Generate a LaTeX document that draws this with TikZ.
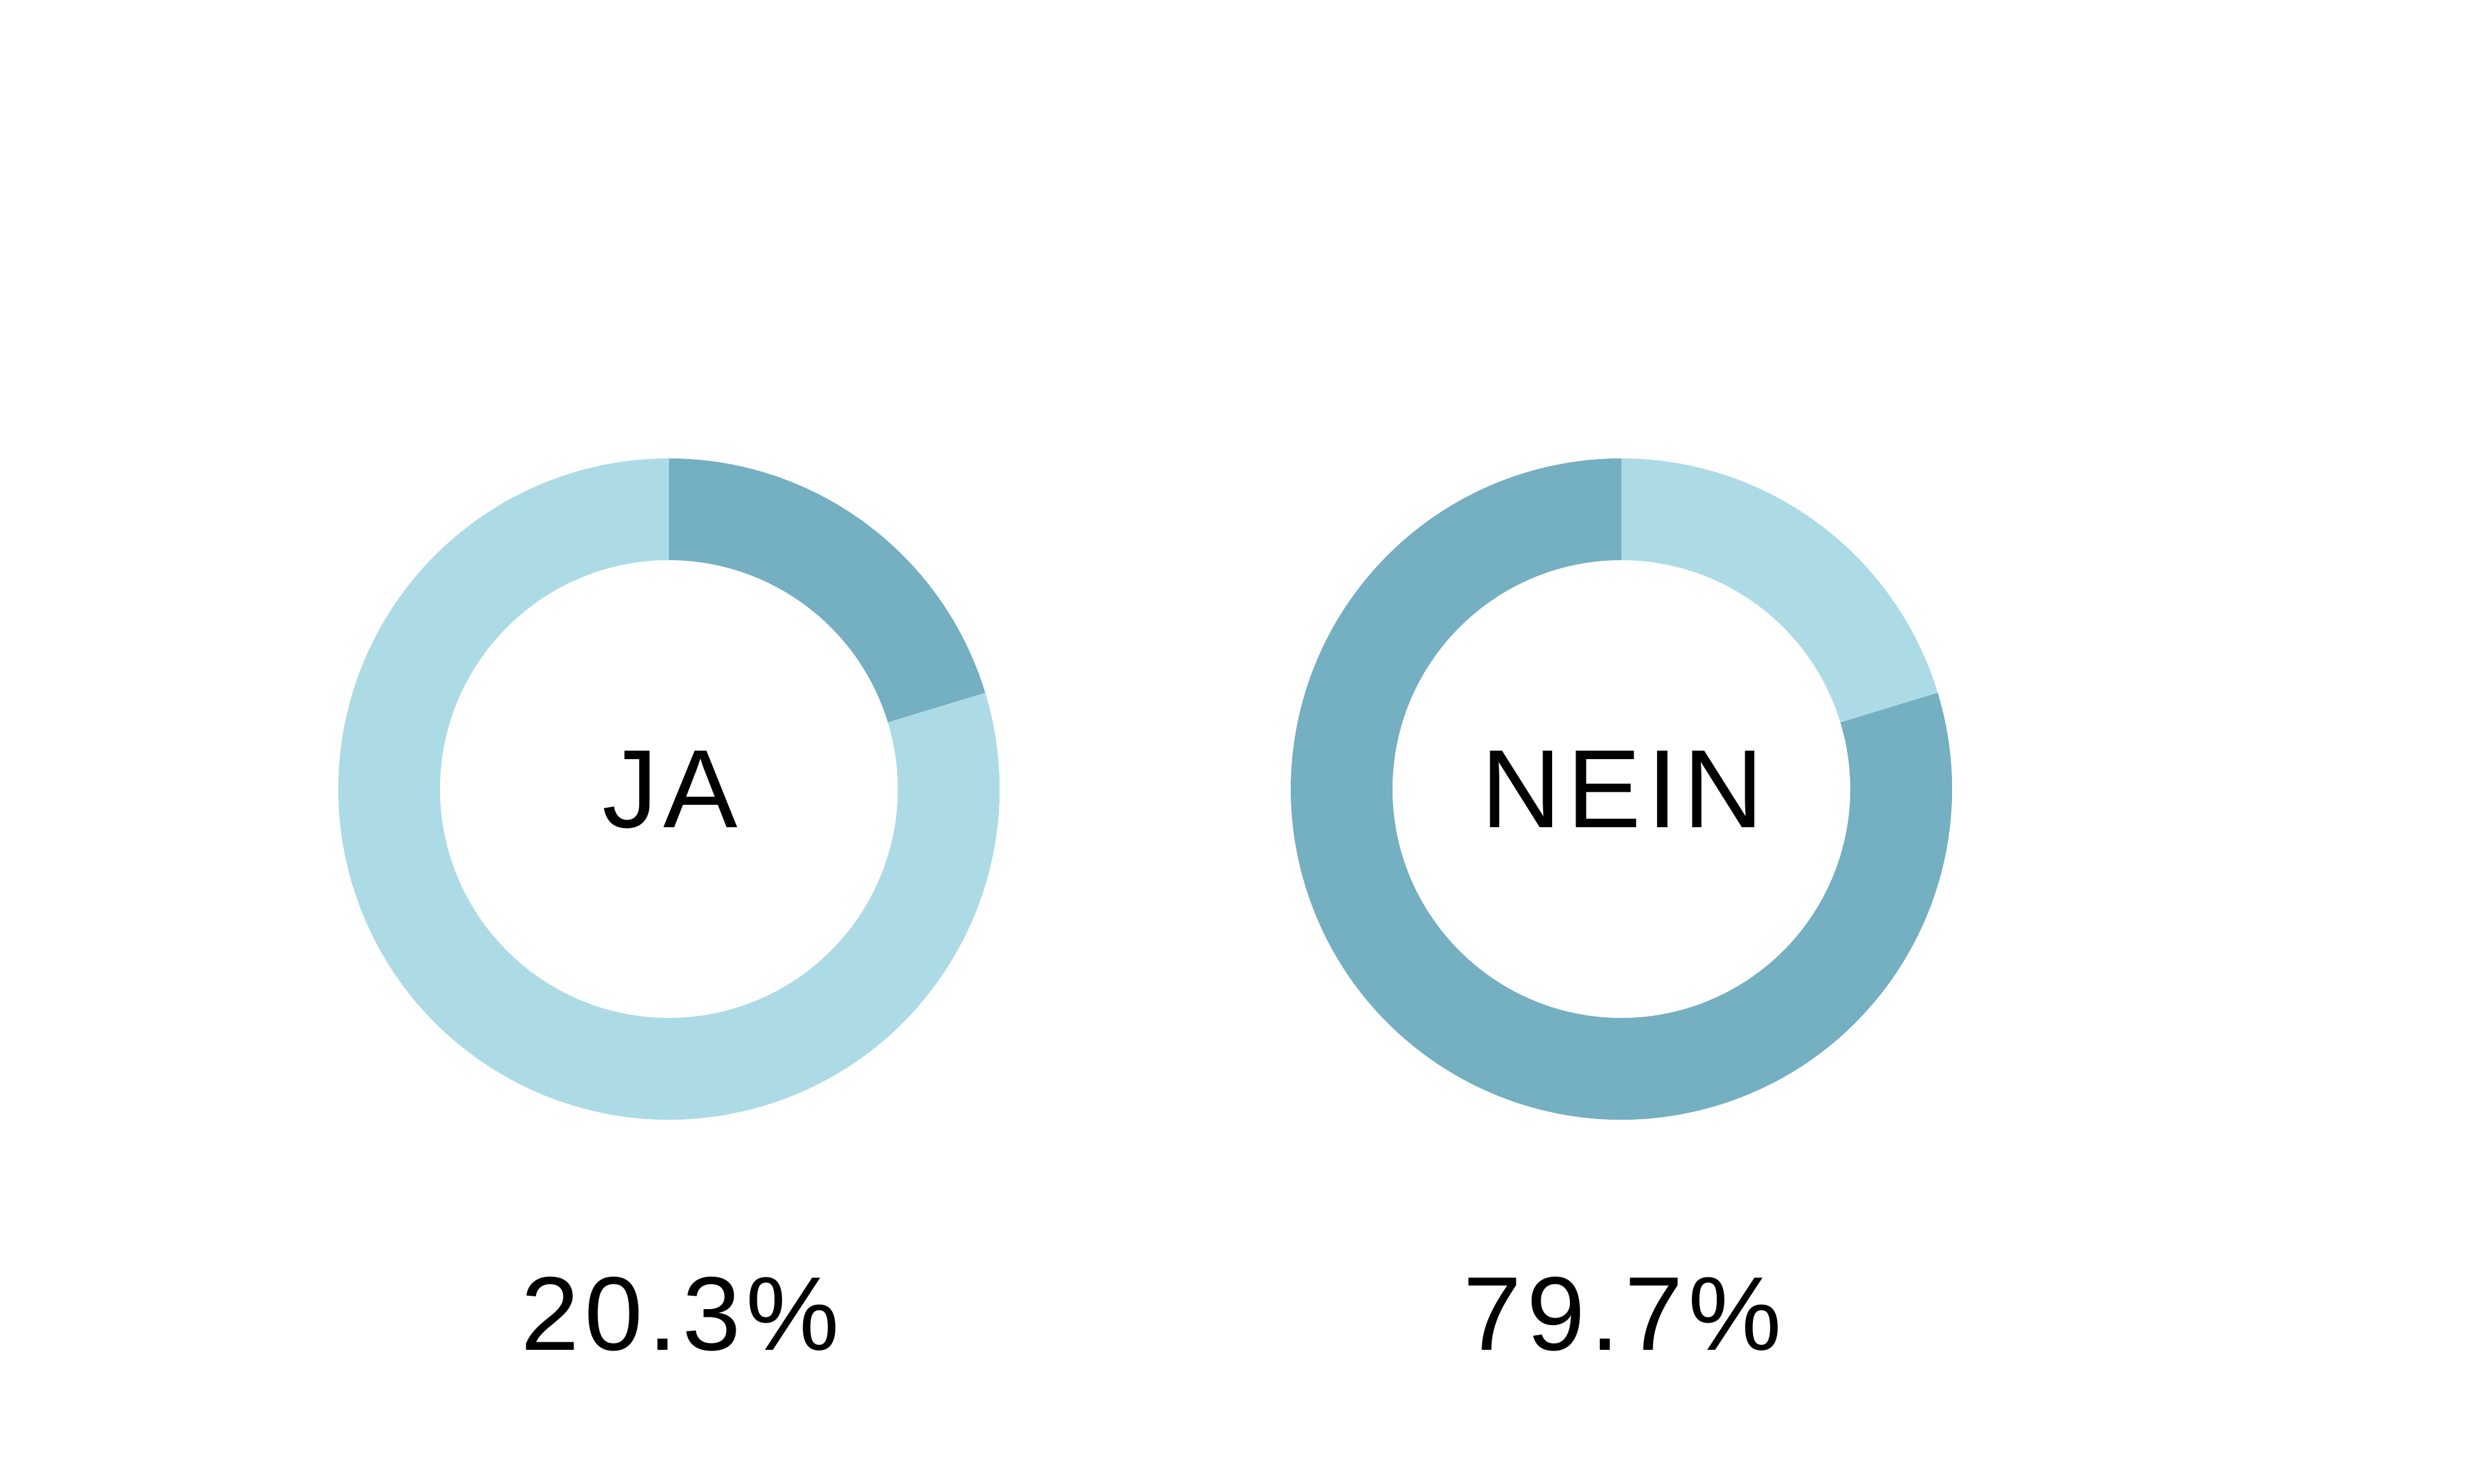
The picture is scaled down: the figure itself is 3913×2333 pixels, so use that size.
\documentclass[tikz,border=0pt]{standalone}
\usepackage{fontspec}
\usepackage{xcolor}
\setmainfont{Liberation Sans}
\newfontfamily\ringfont[LetterSpace=5]{Liberation Sans}
\newfontfamily\sharefont[LetterSpace=5]{Liberation Sans}
\definecolor{ringlight}{HTML}{ACDBE6}
\definecolor{ringdark}{HTML}{74AFC2}
\usetikzlibrary{positioning}

\begin{document}
\begin{tikzpicture}[x=0.2pt,y=0.2pt,
  seglight/.style={fill=ringlight},
  segdark/.style={fill=ringdark},
  ringlabel/.style={anchor=base,inner sep=0pt,font=\ringfont\fontsize{35}{40}\selectfont},
  share/.style={anchor=base,inner sep=0pt,font=\sharefont\fontsize{33}{38}\selectfont}]
\fill[white] (0,0) rectangle (3913,2333);
\useasboundingbox (0,0) rectangle (3913,2333);
\coordinate (ja) at (1052,1092);
\coordinate (nein) at (2550,1092);
% ring JA
\fill[segdark]  ([shift={(90:520)}]ja) arc[start angle=90,end angle=16.92,radius=520]
  -- ([shift={(16.92:360)}]ja) arc[start angle=16.92,end angle=90,radius=360] -- cycle;
\fill[seglight] ([shift={(16.92:520)}]ja) arc[start angle=16.92,end angle=-270,radius=520]
  -- ([shift={(90:360)}]ja) arc[start angle=90,end angle=376.92,radius=360] -- cycle;
% ring NEIN
\fill[seglight] ([shift={(90:520)}]nein) arc[start angle=90,end angle=16.92,radius=520]
  -- ([shift={(16.92:360)}]nein) arc[start angle=16.92,end angle=90,radius=360] -- cycle;
\fill[segdark]  ([shift={(16.92:520)}]nein) arc[start angle=16.92,end angle=-270,radius=520]
  -- ([shift={(90:360)}]nein) arc[start angle=90,end angle=376.92,radius=360] -- cycle;
\node (jatext) at (1054,1031) [ringlabel] {JA};
\node (neintext) at (2552,1031) [ringlabel] {NEIN};
\node (javalue) at (1070,210) [share] {20.3\%};
\node (neinvalue) at (2552,210) [share] {79.7\%};
\end{tikzpicture}
\end{document}
